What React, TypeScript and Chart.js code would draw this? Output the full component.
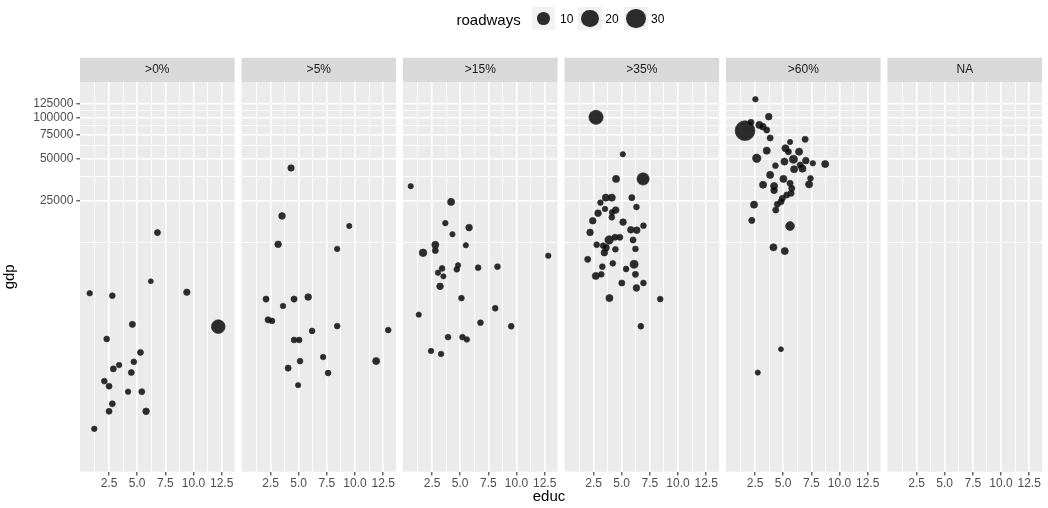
import React, { useEffect, useRef } from "react";
import { Chart, registerables } from "chart.js";
Chart.register(...registerables);

const FONT = "'Liberation Sans', Arial, Helvetica, sans-serif";
Chart.defaults.font.family = FONT;

// ---- data ----
const facetLabels = [">0%", ">5%", ">15%", ">35%", ">60%", "NA"];

const educ_gt0 = [6.8, 6.21, 0.78, 2.79, 9.41, 12.2, 4.57, 2.29, 5.29, 4.7, 3.39, 2.88, 4.48, 2.08, 2.5, 4.19, 5.41, 2.79, 2.5, 5.79, 1.19];
const gdp_gt0 = [14700, 6530, 5350, 5140, 5450, 3070, 3190, 2500, 2000, 1710, 1620, 1520, 1430, 1240, 1140, 1040, 1040, 850, 750, 750, 560];
const roadways_gt0 = [2.5, 1.6, 2, 2.2, 2.8, 14, 2.6, 2.2, 2.4, 2.2, 2, 2.4, 2.4, 2.2, 2.4, 2, 2.4, 2.4, 2.4, 3, 2];

const educ_gt5 = [4.32, 3.52, 9.49, 3.17, 8.42, 2.1, 3.61, 4.59, 5.84, 2.28, 2.63, 6.19, 8.42, 12.95, 4.59, 5.04, 7.17, 4.06, 5.12, 11.88, 7.61, 4.95];
const gdp_gt5 = [43100, 19400, 16400, 12100, 11200, 4860, 4330, 4860, 5030, 3440, 3380, 2860, 3100, 2900, 2460, 2460, 1850, 1540, 1730, 1730, 1420, 1160];
const roadways_gt5 = [2.8, 3, 1.8, 3, 2, 2.5, 2, 2.5, 3, 2.5, 2.2, 2.2, 2.2, 2.2, 2.2, 2.2, 2, 2.5, 2.2, 3.5, 2.2, 1.8];

const educ_gt15 = [0.605, 4.19, 3.68, 5.79, 4.31, 2.79, 2.79, 1.7, 5.5, 12.82, 3.39, 3.03, 3.51, 4.81, 4.7, 6.59, 8.31, 3.21, 5.11, 1.32, 8.11, 6.8, 9.53, 3.92, 5.2, 5.59, 2.41, 3.3];
const gdp_gt15 = [31800, 24500, 17200, 15970, 14300, 12000, 10900, 10500, 11900, 10000, 8100, 7540, 7100, 8530, 7980, 8200, 8340, 6010, 4940, 3750, 4170, 3280, 3090, 2580, 2580, 2480, 2050, 1950];
const roadways_gt15 = [1.8, 3.5, 2, 3, 1.8, 3.5, 2.5, 4, 1.8, 2, 2.2, 2, 1.8, 1.8, 2.2, 2.2, 2.2, 3, 2.2, 1.8, 2.2, 2.2, 2.2, 2.2, 2.2, 2, 2, 2];

const educ_gt35 = [2.72, 5.1, 4.5, 6.9, 3.59, 4.12, 5.9, 3.11, 3.52, 4.47, 4.15, 6.31, 2.9, 4.12, 2.43, 5.12, 6.93, 2.19, 5.81, 6.34, 3.88, 4.41, 4.83, 6.01, 2.78, 3.35, 3.61, 3.46, 4.44, 6.22, 1.98, 6.1, 4.21, 3.28, 5.39, 2.7, 3.19, 6.22, 5.01, 6.93, 6.31, 3.91, 8.42, 6.7];
const gdp_gt35 = [100200, 54150, 35900, 35900, 26300, 26300, 26300, 24200, 21800, 21400, 20600, 22500, 20300, 18970, 17900, 17500, 16500, 14750, 15400, 15300, 13000, 13600, 13600, 13000, 12000, 11830, 11440, 10520, 11130, 11200, 9420, 8670, 8810, 8340, 8020, 7140, 7340, 7340, 6350, 6350, 5850, 4940, 4860, 3090];
const roadways_gt35 = [15, 1.8, 3.5, 11, 3.5, 3.5, 2.5, 2, 2, 3, 2.2, 2.2, 3, 2.2, 3, 3, 2.2, 3, 3, 3, 5, 2.5, 2.5, 2.5, 2.2, 2.2, 3, 3, 2.2, 2.2, 2.5, 4.5, 2.2, 2.2, 2.2, 3.5, 2.2, 2.5, 2.5, 2.2, 3, 3.5, 2.2, 2.2];

const educ_gt60 = [2.53, 3.72, 1.61, 2.14, 2.88, 3.19, 3.54, 3.84, 5.61, 6.95, 3.54, 5.2, 5.46, 6.41, 2.65, 4.31, 5.11, 5.91, 7.01, 7.63, 8.73, 5.97, 6.71, 6.51, 3.84, 5.02, 7.42, 7.3, 3.21, 4.19, 4.19, 5.61, 5.76, 5.7, 5.32, 4.93, 4.81, 2.41, 4.48, 4.34, 2.21, 5.61, 4.13, 5.14, 4.8, 2.74];
const gdp_gt60 = [135300, 101200, 80200, 92200, 88200, 85700, 81100, 71000, 66400, 69500, 57500, 59800, 56500, 56500, 50660, 44800, 47900, 49800, 48700, 46600, 46000, 42200, 42600, 45300, 38400, 35900, 36300, 32800, 32600, 31900, 29700, 33400, 30700, 28300, 27500, 26000, 24600, 23400, 23550, 21400, 18000, 16400, 11500, 10800, 2110, 1430];
const roadways_gt60 = [2, 3, 30, 2.5, 3.5, 3, 2.5, 2.5, 1.8, 2.5, 3.5, 3.5, 2.5, 3.5, 5, 2.2, 3.5, 4.5, 3, 2, 3.5, 3.5, 3.5, 2.5, 3.5, 3.5, 2.2, 3.5, 3.5, 3.5, 3, 2.5, 2.5, 2.5, 2.5, 2.5, 2.5, 3.5, 2.5, 2.5, 2.5, 5.5, 3.5, 3.5, 1.6, 1.8];

const educ_na: number[] = [];
const gdp_na: number[] = [];
const roadways_na: number[] = [];

const xTickValues = [1.25, 2.5, 3.75, 5, 6.25, 7.5, 8.75, 10, 11.25, 12.5];
const yTickValues = [12500, 25000, 37500, 50000, 62500, 75000, 87500, 100000, 112500, 125000];
const legendValues = [10, 20, 30];

const panels = [
  { educ: educ_gt0, gdp: gdp_gt0, roads: roadways_gt0 },
  { educ: educ_gt5, gdp: gdp_gt5, roads: roadways_gt5 },
  { educ: educ_gt15, gdp: gdp_gt15, roads: roadways_gt15 },
  { educ: educ_gt35, gdp: gdp_gt35, roads: roadways_gt35 },
  { educ: educ_gt60, gdp: gdp_gt60, roads: roadways_gt60 },
  { educ: educ_na, gdp: gdp_na, roads: roadways_na },
];

// ---- layout / style ----
const W = 1048;
const H = 508;
const PANEL_LEFT0 = 80;
const PANEL_STEP = 161.5;
const PANEL_W = 154.6;
const PANEL_TOP = 82;
const PANEL_BOTTOM = 471.7;
const STRIP_H = 24.3;
const X_MIN = -0.08;
const X_MAX = 13.65;
const Y_MIN = 274.5;
const Y_MAX = 180300;
const MAJOR_LW = 1.6;
const MINOR_LW = 0.9;

const POINT_FILL = "rgba(0,0,0,0.82)";
const POINT_BORDER = "rgba(45,45,45,0.65)";

const diameterFor = (v: number) => 1.6 + 3.51 * Math.sqrt(v);
const radiusFor = (v: number) => diameterFor(v) / 2 - 0.5;
const isMajorX = (v: number) => Math.abs(v / 2.5 - Math.round(v / 2.5)) < 1e-6;
const isMajorY = (v: number) => Math.abs(v / 25000 - Math.round(v / 25000)) < 1e-6;

const panelBgPlugin = {
  id: "panelBg",
  beforeDraw(chart: any) {
    const { ctx, chartArea: a } = chart;
    ctx.save();
    ctx.fillStyle = "#EBEBEB";
    ctx.fillRect(a.left, a.top, a.right - a.left, a.bottom - a.top);
    ctx.fillStyle = "#D9D9D9";
    ctx.fillRect(a.left, a.top - STRIP_H, a.right - a.left, STRIP_H);
    ctx.restore();
  },
};

function Panel({ index }: { index: number }) {
  const ref = useRef<HTMLCanvasElement>(null);
  useEffect(() => {
    const p = panels[index];
    const first = index === 0;
    const left = PANEL_LEFT0 + PANEL_STEP * index;
    const rightPad = W - (left + PANEL_W);
    const chart = new Chart(ref.current as HTMLCanvasElement, {
      type: "scatter",
      data: {
        datasets: [
          {
            data: p.educ.map((x, i) => ({ x, y: p.gdp[i] })),
            pointRadius: p.roads.map(radiusFor),
            pointHoverRadius: p.roads.map(radiusFor),
            backgroundColor: POINT_FILL,
            borderColor: POINT_BORDER,
            borderWidth: 1,
            clip: false as any,
          },
        ],
      },
      options: {
        responsive: false,
        animation: false,
        events: [],
        layout: {
          padding: { left: first ? 0 : left, right: rightPad, top: PANEL_TOP - STRIP_H, bottom: 0 },
        },
        plugins: {
          legend: { display: false },
          tooltip: { enabled: false },
          title: {
            display: true,
            fullSize: false,
            text: facetLabels[index],
            color: "#1A1A1A",
            font: { size: 12, weight: "normal" as any, family: FONT },
            padding: { top: 4.95, bottom: 4.95 },
          },
        },
        scales: {
          x: {
            type: "linear",
            min: X_MIN,
            max: X_MAX,
            afterBuildTicks: (s: any) => {
              s.ticks = xTickValues.map((v) => ({ value: v, major: isMajorX(v) }));
            },
            afterFit: (s: any) => {
              s.height = H - PANEL_BOTTOM;
            },
            border: { display: false },
            grid: {
              color: "#FFFFFF",
              lineWidth: (c: any) => (c.tick && c.tick.major ? MAJOR_LW : MINOR_LW),
              drawTicks: true,
              tickLength: 3.7,
              tickWidth: 1.1,
              tickColor: (c: any) => (c.tick && c.tick.major ? "#333333" : "rgba(0,0,0,0)"),
            },
            ticks: {
              autoSkip: false,
              maxRotation: 0,
              padding: 1.5,
              color: "#4D4D4D",
              font: { size: 12, family: FONT },
              callback: (v: any) => (isMajorX(Number(v)) ? Number(v).toFixed(1) : ""),
            },
          },
          y: {
            type: "logarithmic",
            min: Y_MIN,
            max: Y_MAX,
            afterBuildTicks: (s: any) => {
              s.ticks = yTickValues.map((v) => ({ value: v, major: isMajorY(v) }));
            },
            afterFit: (s: any) => {
              s.width = first ? PANEL_LEFT0 : 0;
            },
            border: { display: false },
            grid: {
              color: "#FFFFFF",
              lineWidth: (c: any) => (c.tick && c.tick.major ? MAJOR_LW : MINOR_LW),
              drawTicks: first,
              tickLength: 3.7,
              tickWidth: 1.1,
              tickColor: (c: any) => (c.tick && c.tick.major ? "#333333" : "rgba(0,0,0,0)"),
            },
            ticks: {
              display: first,
              autoSkip: false,
              padding: 3,
              color: "#4D4D4D",
              font: { size: 12, family: FONT },
              callback: (v: any) => (isMajorY(Number(v)) ? String(Number(v)) : ""),
            },
            title: {
              display: first,
              text: "gdp",
              color: "#000000",
              font: { size: 15, family: FONT },
              padding: { top: 1, bottom: 0 },
            },
          },
        },
      } as any,
      plugins: [panelBgPlugin],
    });
    return () => chart.destroy();
  }, [index]);
  return (
    <canvas
      ref={ref}
      width={W}
      height={H}
      style={{ position: "absolute", left: 0, top: 0, width: W, height: H }}
    />
  );
}

const keyLefts = [531.7, 578.3, 624.3];
const keyLabelLefts = [560, 605.3, 651];
const KEY_SIZE = 23.3;
const KEY_TOP = 7;
const EDUC_CENTER_X = 549;

function Legend() {
  return (
    <>
      <div
        style={{
          position: "absolute",
          left: 456.5,
          top: 9.5,
          font: `15px ${FONT}`,
          lineHeight: "20px",
          color: "#000",
          whiteSpace: "nowrap",
        }}
      >
        roadways
      </div>
      {legendValues.map((v, i) => {
        const d = Math.min(diameterFor(v), 19.5);
        return (
          <React.Fragment key={v}>
            <div
              style={{
                position: "absolute",
                left: keyLefts[i],
                top: KEY_TOP,
                width: KEY_SIZE,
                height: KEY_SIZE,
                background: "#F2F2F2",
              }}
            />
            <div
              style={{
                position: "absolute",
                left: keyLefts[i] + KEY_SIZE / 2 - d / 2,
                top: KEY_TOP + KEY_SIZE / 2 - d / 2,
                width: d,
                height: d,
                boxSizing: "border-box",
                borderRadius: "50%",
                background: POINT_FILL,
                border: `1px solid ${POINT_BORDER}`,
              }}
            />
            <div
              style={{
                position: "absolute",
                left: keyLabelLefts[i],
                top: KEY_TOP + KEY_SIZE / 2 - 8,
                font: `12px ${FONT}`,
                lineHeight: "16px",
                color: "#000",
                whiteSpace: "nowrap",
              }}
            >
              {String(v)}
            </div>
          </React.Fragment>
        );
      })}
    </>
  );
}

export default function App() {
  return (
    <div
      style={{
        position: "fixed",
        left: 0,
        top: 0,
        width: W,
        height: H,
        overflow: "hidden",
        background: "#FFFFFF",
        fontFamily: FONT,
      }}
    >
      {panels.map((_, i) => (
        <Panel key={i} index={i} />
      ))}
      <Legend />
      <div
        style={{
          position: "absolute",
          left: EDUC_CENTER_X,
          top: 487,
          transform: "translateX(-50%)",
          font: `15px ${FONT}`,
          lineHeight: "18px",
          color: "#000",
          whiteSpace: "nowrap",
        }}
      >
        educ
      </div>
    </div>
  );
}
